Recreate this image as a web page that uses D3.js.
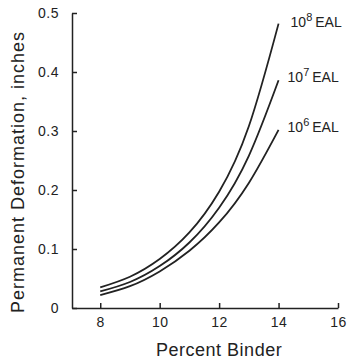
<!DOCTYPE html>
<html>
<head>
<meta charset="utf-8">
<script src="https://cdn.jsdelivr.net/npm/d3@7"></script>
<style>
body{margin:0;background:#fff;}
text{font-family:"Liberation Sans",Arial,sans-serif;fill:#222;}
.axis path,.axis line{stroke:#222;stroke-width:1.5;}
</style>
</head>
<body>
<svg id="chart"></svg>
<script>
// values
var binder = [8, 9, 10, 11, 12, 13, 14]
var eal8 = [0.035, 0.053, 0.083, 0.128, 0.197, 0.308, 0.482]
var eal7 = [0.028, 0.044, 0.071, 0.111, 0.170, 0.258, 0.386]
var eal6 = [0.022, 0.037, 0.062, 0.097, 0.145, 0.212, 0.302]
var seriesNames = ["8", "7", "6"]
var xTicks = [8, 10, 12, 14, 16]
var yTicks = [0, 0.1, 0.2, 0.3, 0.4, 0.5]

var screen = {width:349, height:360}
var margin = {top:13, right:11, bottom:52, left:72}
var w = screen.width - margin.left - margin.right
var h = screen.height - margin.top - margin.bottom

var svg = d3.select("#chart")
  .attr("width", screen.width)
  .attr("height", screen.height)

var chart = svg.append("g")
  .attr("transform", "translate(" + margin.left + "," + margin.top + ")")

var xScale = d3.scaleLinear().domain([7.05, 16]).range([0, w])
var yScale = d3.scaleLinear().domain([0, 0.5]).range([h, 0])

var xAxis = d3.axisBottom(xScale).tickValues(xTicks).tickSizeInner(-5).tickSizeOuter(0).tickPadding(9)
chart.append("g").attr("class", "axis")
  .attr("transform", "translate(0," + h + ")")
  .call(xAxis)
  .selectAll("text").style("font-size", "14px").style("letter-spacing", "0.5px")

var yAxis = d3.axisLeft(yScale).tickValues(yTicks).tickSizeInner(-5).tickSizeOuter(0).tickPadding(13)
  .tickFormat(function(d){ return d === 0 ? "0" : d.toFixed(1) })
chart.append("g").attr("class", "axis")
  .call(yAxis)
  .selectAll("text").style("font-size", "14px").style("letter-spacing", "0.5px")

var allSeries = [eal8, eal7, eal6]
var line = d3.line()
  .x(function(d, i){ return xScale(binder[i]) })
  .y(function(d){ return yScale(d) })
  .curve(d3.curveNatural)

chart.selectAll(".curve")
  .data(allSeries)
  .enter()
  .append("path")
  .attr("class", "curve")
  .attr("d", line)
  .attr("fill", "none")
  .attr("stroke", "#222")
  .attr("stroke-width", 1.8)

// labels at the end of each curve
var labelY = [0.485, 0.392, 0.307]
var labelDx = [12, 9, 9]
seriesNames.forEach(function(s, i){
  var t = chart.append("text")
    .attr("x", xScale(14) + labelDx[i])
    .attr("y", yScale(labelY[i]) + 5)
    .style("font-size", "14px")
  t.append("tspan").text("10")
  t.append("tspan").attr("dy", -6).style("font-size", "11px").text(s)
  t.append("tspan").attr("dy", 6).attr("dx", 3).text("EAL")
})

svg.append("text")
  .attr("x", margin.left + xScale(12))
  .attr("y", 356)
  .attr("text-anchor", "middle")
  .style("font-size", "18px")
  .style("letter-spacing", "0.5px")
  .text("Percent Binder")

svg.append("text")
  .attr("transform", "translate(24,172) rotate(-90)")
  .attr("text-anchor", "middle")
  .style("font-size", "18px")
  .style("letter-spacing", "1px")
  .text("Permanent Deformation, inches")
</script>
</body>
</html>
